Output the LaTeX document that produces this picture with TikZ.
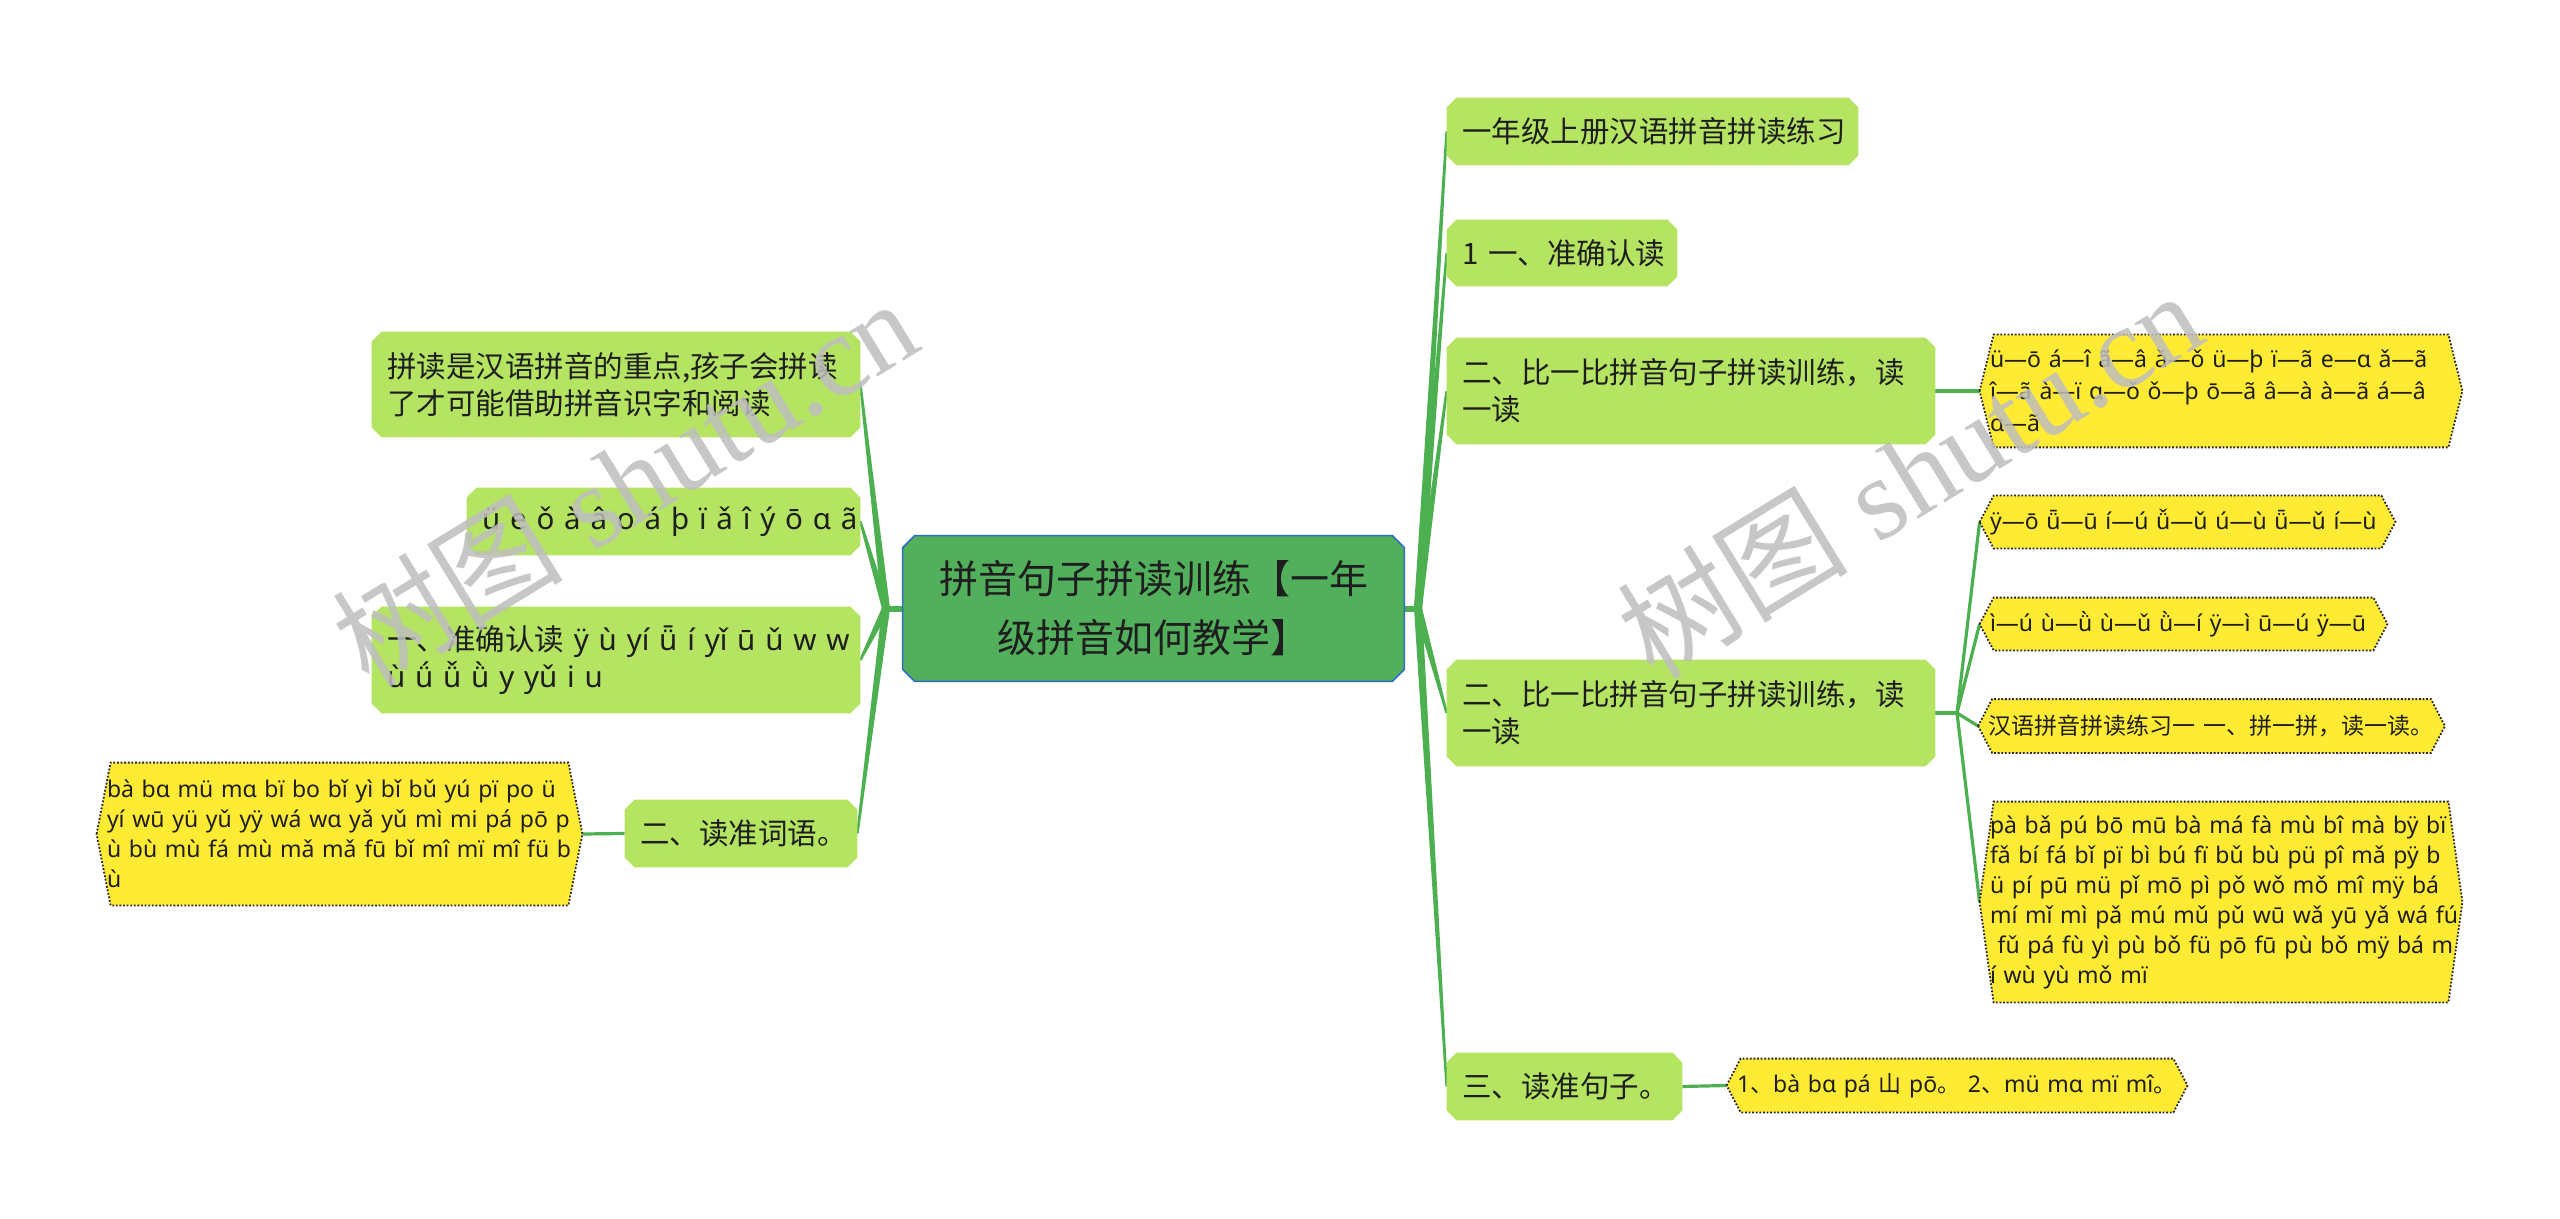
\documentclass[tikz,border=0pt]{standalone}
\usepackage{fontspec}
\setmainfont{Noto Sans}
\newfontfamily\cjk{Noto Sans CJK SC}
\newfontfamily\wmserif{Liberation Serif}
\usetikzlibrary{calc,backgrounds}
\definecolor{branch}{RGB}{76,175,80}
\definecolor{rootfill}{RGB}{82,176,92}
\definecolor{rootline}{RGB}{46,110,190}
\definecolor{lgreen}{RGB}{180,228,98}
\definecolor{yfill}{RGB}{255,234,52}
\definecolor{txt}{RGB}{30,30,30}
\definecolor{wmgray}{RGB}{190,190,190}

\newcommand\chamf[3]{%
  \path[#3] ([xshift=#2]#1.north west) -- ([xshift=-#2]#1.north east) -- ([yshift=-#2]#1.north east) -- ([yshift=#2]#1.south east) -- ([xshift=-#2]#1.south east) -- ([xshift=#2]#1.south west) -- ([yshift=#2]#1.south west) -- ([yshift=-#2]#1.north west) -- cycle;}
\newcommand\yhex[1]{%
  \path[yshape] (#1.west) -- ([xshift=7pt]#1.north west) -- ([xshift=-7pt]#1.north east) -- (#1.east) -- ([xshift=-7pt]#1.south east) -- ([xshift=7pt]#1.south west) -- cycle;}
\newcommand\taper[2]{%
  \fill[branch] ($(#1)!2pt!90:(#2)$) -- ($(#2)!0.6pt!-90:(#1)$) -- ($(#2)!0.6pt!90:(#1)$) -- ($(#1)!2pt!-90:(#2)$) -- cycle;}

\begin{document}
\begin{tikzpicture}[x=0.5pt,y=-0.5pt,
  gbox/.style={rectangle, inner xsep=7.5pt, inner ysep=0pt, align=left, text=txt, font=\fontsize{14.75}{18.5}\selectfont},
  gboxc/.style={gbox, font=\cjk\fontsize{14.75}{18.5}\selectfont},
  ybox/.style={rectangle, inner xsep=5pt, inner ysep=0pt, align=left, text=txt, font=\fontsize{11.5}{12}\selectfont},
  yshape/.style={fill=yfill, draw=black!85, line width=0.9pt, dash pattern=on 0.9pt off 0.9pt},
  gshape/.style={fill=lgreen},
  sub/.style={draw=branch, line width=1.6pt},
  wm/.style={rotate=31.5, anchor=base, text=wmgray, opacity=0.85, font=\fontsize{58}{58}\selectfont}]
\useasboundingbox (0,0) rectangle (2560,1219);

% root
\node[font=\cjk\fontsize{19.5}{29.5}\selectfont, align=center, minimum width=250.5pt, minimum height=72.5pt, inner sep=0pt, text=txt] (root) at (1153.5,608.5) {拼音句子拼读训练【一年\\级拼音如何教学】};

% right main children
\node[gboxc, minimum width=205.5pt, minimum height=33.5pt, text width=190.5pt] (R1) at (1652.5,131.5) {\mbox{一年级上册汉语拼音拼读练习}};
\node[gboxc, minimum width=115pt, minimum height=33pt, text width=100pt] (R2) at (1562,253) {\mbox{1 一、准确认读}};
\node[gboxc, minimum width=244pt, minimum height=53pt, text width=229pt] (R3) at (1691,391) {\mbox{二、比一比拼音句子拼读训练，读}\\\mbox{一读}};
\node[gboxc, minimum width=244pt, minimum height=53pt, text width=229pt] (R4) at (1691,713) {\mbox{二、比一比拼音句子拼读训练，读}\\\mbox{一读}};
\node[gboxc, minimum width=117.5pt, minimum height=33.5pt, text width=102.5pt] (R5) at (1564.5,1086.5) {\mbox{三、读准句子。}};

% left main children
\node[gboxc, minimum width=244pt, minimum height=52.5pt, text width=229pt] (L1) at (616,384.5) {\mbox{拼读是汉语拼音的重点,孩子会拼读}\\\mbox{了才可能借助拼音识字和阅读}};
\node[gbox, minimum width=196.5pt, minimum height=33.5pt, text width=181.5pt] (L2) at (663.5,521.5) {\mbox{ü e ǒ à â o á þ ï ǎ î ý ō ɑ ã}};
\node[gbox, minimum width=244pt, minimum height=53pt, text width=229pt] (L3) at (616,660) {\mbox{{\cjk 一、准确认读} ÿ ù yí ǖ í yǐ ū ǔ w w}\\\mbox{ù ǘ ǚ ǜ y yǔ i u}};
\node[gboxc, minimum width=116pt, minimum height=33.5pt, text width=101pt] (L4) at (741,833.5) {\mbox{二、读准词语。}};

% yellow leaves
\node[ybox, minimum width=242.5pt, minimum height=71pt, text width=232.5pt, font=\fontsize{11.5}{15}\selectfont] (LY) at (339.5,834) {\mbox{bà bɑ mü mɑ bï bo bǐ yì bǐ bǔ yú pï po ü}\\\mbox{yí wū yü yǔ yÿ wá wɑ yǎ yǔ mì mi pá pō p}\\\mbox{ù bù mù fá mù mǎ mǎ fū bǐ mî mï mî fü b}\\\mbox{ù}};
\node[ybox, minimum width=241pt, minimum height=56pt, text width=231pt, font=\fontsize{11.5}{16}\selectfont] (Y1) at (2221,391) {\mbox{ü—ō á—î ã—â ǎ—ǒ ü—þ ï—ã e—ɑ ǎ—ã}\\\mbox{î—ã à—ï ɑ—ǒ ǒ—þ ō—ã â—à à—ã á—â}\\\mbox{ɑ—ã}};
\node[ybox, minimum width=207.5pt, minimum height=26pt, text width=197.5pt] (Y2) at (2187.5,522) {\mbox{ÿ—ō ǖ—ū í—ú ǚ—ǔ ú—ù ǖ—ǔ í—ù}};
\node[ybox, minimum width=203.5pt, minimum height=26pt, text width=193.5pt] (Y3) at (2183.5,624) {\mbox{ì—ú ù—ǜ ù—ǔ ǜ—í ÿ—ì ū—ú ÿ—ū}};
\node[ybox, minimum width=233pt, minimum height=26.5pt, text width=223pt] (Y4) at (2211.5,726) {\mbox{\cjk 汉语拼音拼读练习一 一、拼一拼，读一读。}};
\node[ybox, minimum width=241pt, minimum height=100pt, text width=231pt, font=\fontsize{11.5}{15}\selectfont] (Y5) at (2221,902) {\mbox{pà bǎ pú bō mū bà má fà mù bî mà bÿ bï}\\\mbox{fǎ bí fá bǐ pï bì bú fï bǔ bù pü pî mǎ pÿ b}\\\mbox{ü pí pū mü pǐ mō pì pǒ wǒ mǒ mî mÿ bá}\\\mbox{mí mǐ mì pǎ mú mǔ pǔ wū wǎ yū yǎ wá fú}\\\mbox{\ fǔ pá fù yì pù bǒ fü pō fū pù bǒ mÿ bá m}\\\mbox{í wù yù mǒ mï}};
\node[ybox, minimum width=230pt, minimum height=26.5pt, text width=220pt] (Y6) at (1957,1085.5) {\mbox{1{\cjk 、}bà bɑ pá {\cjk 山} pō{\cjk 。} 2{\cjk 、}mü mɑ mï mî{\cjk 。}}};

\coordinate (JL) at (886,608.5);
\coordinate (JR) at (1418,608.5);
\coordinate (J4) at (1957,713);

\begin{pgfonlayer}{background}
  \fill[white] (0,0) rectangle (2560,1219);
  % connectors
  \draw[branch, line width=3pt] (root.west) -- (JL);
  \draw[branch, line width=3pt] (root.east) -- (JR);
  \taper{JL}{L1.east}
  \taper{JL}{L2.east}
  \taper{JL}{L3.east}
  \taper{JL}{L4.east}
  \taper{JR}{R1.west}
  \taper{JR}{R2.west}
  \taper{JR}{R3.west}
  \taper{JR}{R4.west}
  \taper{JR}{R5.west}
  \draw[sub] (R3.east) -- (Y1.west);
  \draw[sub] (R4.east) -- (J4);
  \draw[sub] (J4) -- (Y2.west);
  \draw[sub] (J4) -- (Y3.west);
  \draw[sub] (J4) -- (Y4.west);
  \draw[sub] (J4) -- (Y5.west);
  \draw[sub] (R5.east) -- (Y6.west);
  \draw[sub] (L4.west) -- (LY.east);
  % shapes
  \chamf{root}{6pt}{fill=rootfill, draw=rootline, line width=0.8pt}
  \chamf{R1}{5pt}{gshape}
  \chamf{R2}{5pt}{gshape}
  \chamf{R3}{5pt}{gshape}
  \chamf{R4}{5pt}{gshape}
  \chamf{R5}{5pt}{gshape}
  \chamf{L1}{5pt}{gshape}
  \chamf{L2}{5pt}{gshape}
  \chamf{L3}{5pt}{gshape}
  \chamf{L4}{5pt}{gshape}
  \yhex{LY}
  \yhex{Y1}
  \yhex{Y2}
  \yhex{Y3}
  \yhex{Y4}
  \yhex{Y5}
  \yhex{Y6}
\end{pgfonlayer}

% watermark
\node[wm] (wm1) at (647,519) {{\cjk 树图} {\wmserif shutu.cn}};
\node[wm] (wm2) at (1932,511) {{\cjk 树图} {\wmserif shutu.cn}};
\end{tikzpicture}
\end{document}
